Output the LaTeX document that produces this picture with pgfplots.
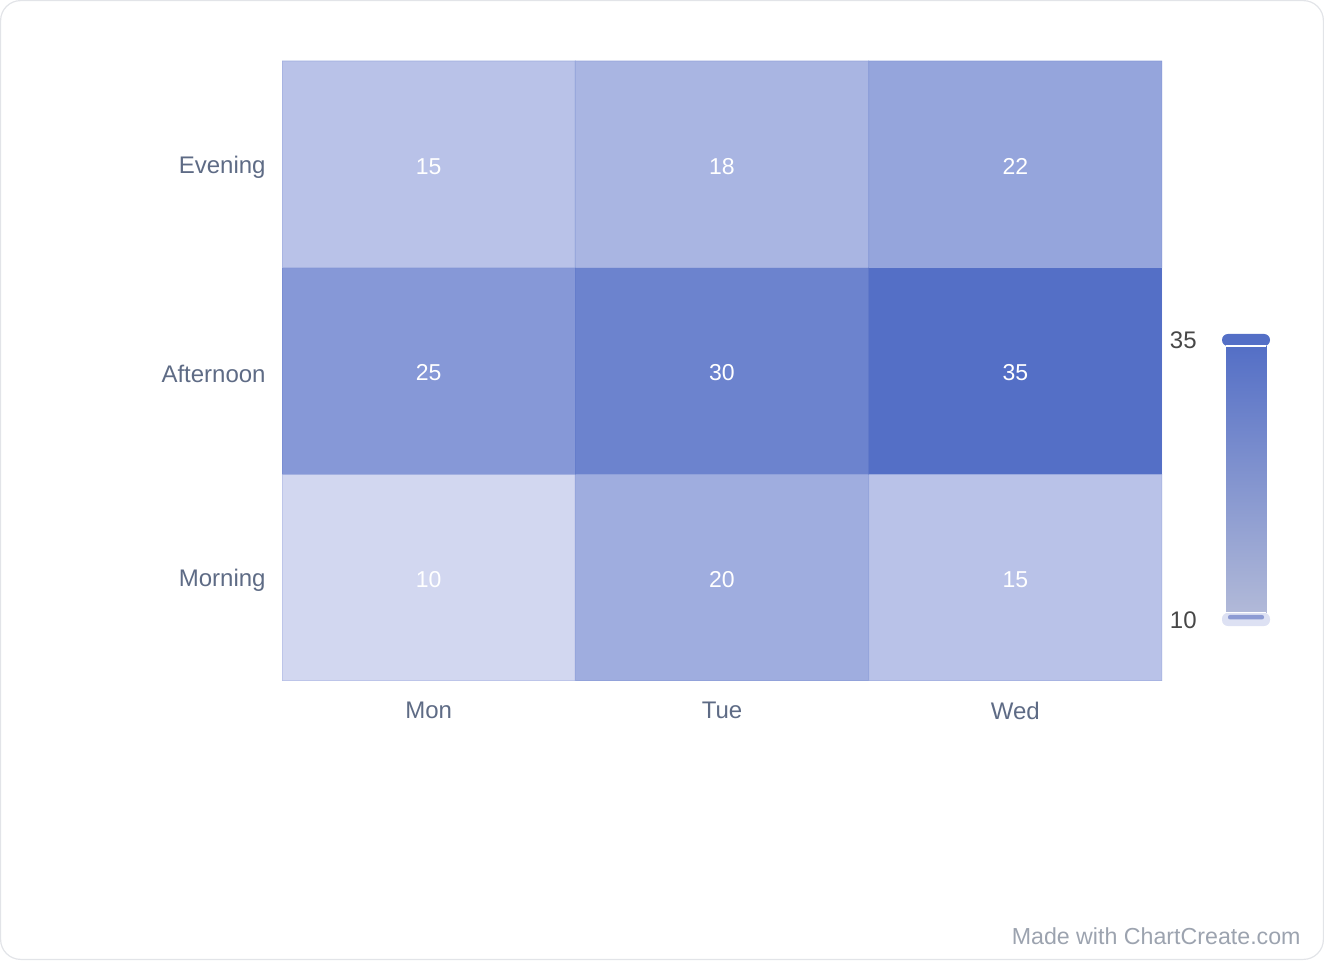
\documentclass[border=0pt]{standalone}
\usepackage{pgfplots}
\pgfplotsset{compat=1.18}
\usepackage{fontspec}
\setmainfont{Liberation Sans}

\definecolor{lblcol}{HTML}{5E6B85}
\definecolor{wmcol}{HTML}{9CA3AF}
\definecolor{cmlow}{HTML}{D2D7F0}
\definecolor{cmhigh}{HTML}{546FC6}
\definecolor{cbarlow}{HTML}{B1B9D8}
\definecolor{handlelow}{HTML}{DDE1F3}
\definecolor{handlemid}{HTML}{8D9BD3}
\definecolor{framecol}{HTML}{E2E4E8}

\begin{document}
\begin{tikzpicture}[x=1pt,y=1pt]
% frame of the card
\draw[framecol, line width=0.6pt, rounded corners=10pt] (0.3,0.3) rectangle (661.7,479.7);

% heatmap
\begin{axis}[
    at={(141pt,139.5pt)}, anchor=south west,
    scale only axis, width=440pt, height=310pt,
    xmin=-0.5, xmax=2.5, ymin=-0.5, ymax=2.5,
    axis line style={draw=none},
    major tick length=0pt,
    xtick={0,1,2}, xticklabels={Mon,Tue,Wed},
    ytick={0,1,2}, yticklabels={Morning,Afternoon,Evening},
    tick label style={font=\fontsize{12}{14}\selectfont, text=lblcol, inner sep=0pt},
    xticklabel style={yshift=-10.5pt},
    yticklabel style={xshift=-8pt, yshift=-1.5pt},
    /pgf/number format/assume math mode=true,
    colormap={bluecm}{color(10)=(cmlow) color(35)=(cmhigh)},
    point meta min=10, point meta max=35,
]
\addplot[matrix plot*, mesh/cols=3, point meta=explicit,
    draw=cmhigh, draw opacity=0.25, line width=0.5pt]
    table[meta=v] {
x y v
0 0 10
1 0 20
2 0 15
0 1 25
1 1 30
2 1 35
0 2 15
1 2 18
2 2 22
};
\addplot[draw=none, mark=none, point meta=explicit,
    nodes near coords, nodes near coords align=center,
    every node near coord/.append style={font=\fontsize{11.5}{13}\selectfont, text=white, anchor=center, yshift=-1pt}]
    table[meta=v] {
x y v
0 0 10
1 0 20
2 0 15
0 1 25
1 1 30
2 1 35
0 2 15
1 2 18
2 2 22
};
\end{axis}

% colour scale
\begin{axis}[
    at={(613pt,170pt)}, anchor=south west,
    scale only axis, width=20pt, height=140pt,
    xmin=0, xmax=1, ymin=10, ymax=35,
    axis line style={draw=none},
    major tick length=0pt,
    xtick=\empty,
    ytick={10,35},
    yticklabel style={font=\fontsize{12}{14}\selectfont, text=black!72, inner sep=0pt, xshift=-14.5pt},
    /pgf/number format/assume math mode=true,
    colormap={cbarcm}{color(10.7)=(cbarlow) color(34.5)=(cmhigh)},
    point meta min=10.7, point meta max=34.5,
    clip=false,
]
\addplot[patch, shader=interp, point meta=y] coordinates {
    (0,10.7) (1,10.7) (1,34.5)
    (0,10.7) (1,34.5) (0,34.5)
};
\fill[cmhigh, rounded corners=3pt] (axis cs:-0.1,34.46) rectangle (axis cs:1.1,35.54);
\draw[white, line width=0.8pt] (axis cs:0,34.46) -- (axis cs:1,34.46);
\fill[handlelow, rounded corners=3pt] (axis cs:-0.1,9.46) rectangle (axis cs:1.1,10.64);
\draw[white, line width=0.8pt] (axis cs:0,10.66) -- (axis cs:1,10.66);
\fill[handlemid, rounded corners=1pt] (axis cs:0.05,10.05) rectangle (axis cs:0.95,10.45);
\end{axis}

\node[anchor=base east, font=\fontsize{11.6}{13}\selectfont, text=wmcol, inner sep=0pt] at (650.5,8) {Made with ChartCreate.com};
\end{tikzpicture}
\end{document}
